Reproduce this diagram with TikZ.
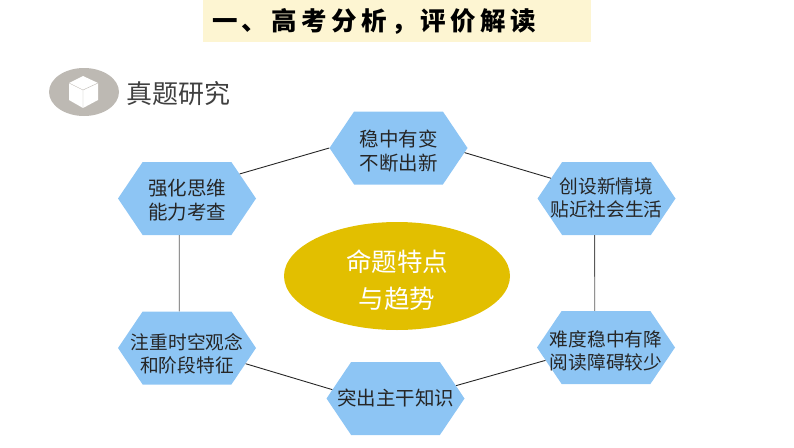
\documentclass[tikz,border=0pt]{standalone}
\usepackage{fontspec}
\setmainfont{Noto Sans CJK SC}
\usetikzlibrary{shapes.geometric,shapes.symbols}
\definecolor{hexblue}{HTML}{8DC5F4}
\definecolor{oval}{HTML}{E2BF00}
\definecolor{titlebg}{HTML}{FDF5D2}
\definecolor{icongray}{HTML}{BDB9B3}
\newcommand{\twolines}[3]{\raisebox{#1}[0pt][0pt]{\makebox[88pt]{\begin{tabular}{@{}c@{}}#2\\#3\end{tabular}}}}
\begin{document}
\begin{tikzpicture}[x=1pt,y=-1pt]
  \tikzstyle{hex}=[signal, signal to=east and west, signal pointer angle=112, fill=hexblue, minimum width=138pt, minimum height=73pt, inner sep=0pt, font=\fontsize{19.5}{24}\selectfont, text=black!85]
  \tikzstyle{small}=[font=\fontsize{18.7}{23}\selectfont]
  \tikzstyle{connect}=[line width=0.9pt, black!85]
  \tikzstyle{upright}=[line width=0.9pt, black!65]
  \useasboundingbox (0,0) rectangle (794,447);
    \node[rectangle, fill=titlebg, minimum width=388pt, minimum height=42pt, inner sep=0pt, font=\fontsize{25.5}{25.5}\selectfont\bfseries\addfontfeature{LetterSpace=17}] (title) at (397,21) {\makebox[388pt][l]{\hspace{9pt}一、高考分析，评价解读}};
    \node[ellipse, fill=oval, minimum width=226pt, minimum height=108pt, inner sep=0pt, text=white, font=\fontsize{25.5}{37}\selectfont] (theme) at (397,276) {\twolines{-13pt}{命题特点}{与趋势}};
    \node[ellipse, fill=icongray, minimum width=70pt, minimum height=48pt, inner sep=0pt] (icon) at (84,92) {};
    \node[anchor=west, inner sep=0pt, font=\fontsize{26}{26}\selectfont, text=black!75] (study) at (126,94) {真题研究};
    \node[hex] (stable) at (398.5,148) {\twolines{-11pt}{稳中有变}{不断出新}};
    \node[hex] (think) at (187,198.5) {\twolines{-9pt}{强化思维}{能力考查}};
    \node[hex, small] (create) at (606.5,198.5) {\twolines{-6.5pt}{创设新情境}{贴近社会生活}};
    \node[hex, small] (time) at (187,348) {\twolines{-13pt}{注重时空观念}{和阶段特征}};
    \node[hex, small] (level) at (606,347.5) {\twolines{-10pt}{难度稳中有降}{阅读障碍较少}};
    \node[hex] (core) at (395.5,398.5) {\makebox[88pt]{\raisebox{-1pt}{突出主干知识}}};
    \path (think.25) edge [connect] (stable.180)
          (stable.-4) edge [connect] (create.160)
          (create.252) edge [upright] (level.107)
          (level.192) edge [connect] (core.12)
          (core.172) edge [connect] (time.-15)
          (time.102) edge [upright] (think.258);
    % cube on the grey oval
    \fill[white] (83,76) -- (98,83) -- (98,100) -- (83,108) -- (69,100) -- (69,83) -- cycle;
    \draw[icongray, thin] (69,83) -- (83,90) -- (98,83) (83,90) -- (83,108);
\end{tikzpicture}
\end{document}
